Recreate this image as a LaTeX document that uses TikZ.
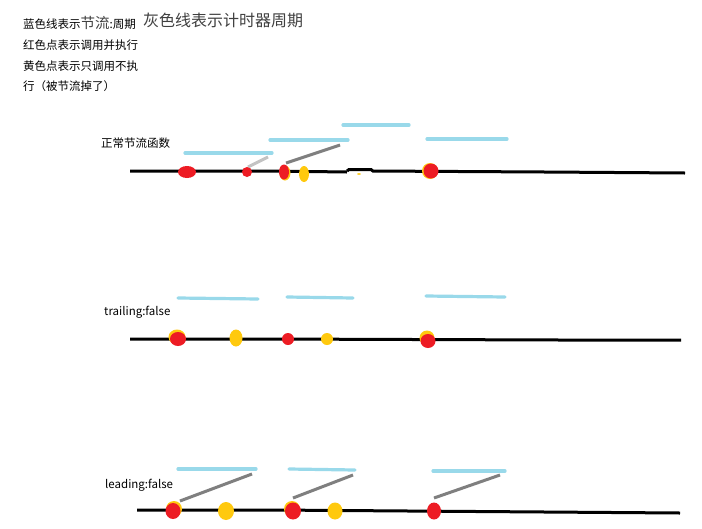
\documentclass[tikz,border=0pt]{standalone}
\usepackage{fontspec}
\setmainfont{Noto Sans CJK SC}
\definecolor{skyb}{RGB}{153,217,234}
\definecolor{penred}{RGB}{237,28,36}
\definecolor{penyel}{RGB}{255,201,14}
\definecolor{pengray}{RGB}{127,127,127}
\definecolor{lgray}{RGB}{195,195,195}
\tikzset{
  axis/.style={line width=3pt, black},
  period/.style={line width=3.2pt, skyb, line cap=round},
  timer/.style={line width=3pt, pengray},
  timerlight/.style={line width=3pt, lgray},
  lbl/.style={anchor=west, inner sep=0pt, font=\fontsize{11.5}{13}\selectfont},
  rdot/.style={fill=penred},
  ydot/.style={fill=penyel}
}
\begin{document}
\begin{tikzpicture}[x=1pt,y=-1pt]
\useasboundingbox (0,0) rectangle (702,528);
\fill[white] (0,0) rectangle (702,528);
% legend
\node[lbl] (l1) at (23,23) {蓝色线表示{\fontsize{14.5}{16}\selectfont\color{black!75}节流}:周期};
\node[lbl, font=\fontsize{16}{18}\selectfont, text=black!75] (l1b) at (143,20) {灰色线表示计时器周期};
\node[lbl] (l2) at (23,45) {红色点表示调用并执行};
\node[lbl] (l3) at (23,66) {黄色点表示只调用不执};
\node[lbl] (l4) at (23,86) {行（被节流掉了）};
% ---------- row 1 ----------
\node[lbl] (r1) at (101,143) {正常节流函数};
\draw[axis] (130,171) -- (270,171) -- (347,172);
\draw[axis] (347,171) -- (349,169.5) -- (371,169.5) -- (373,171) -- (545,172) -- (685,173);
\draw[period] (185,153) -- (272,153);
\draw[period] (270,140) -- (348,140);
\draw[period] (343,125) -- (409,125);
\draw[period] (427,139) -- (507,139);
\draw[timerlight] (248,167) -- (268,157);
\draw[timer] (286,163) -- (340,145);
\fill[rdot] (187,172) ellipse (9 and 6);
\fill[rdot] (247,172) circle (5);
\fill[ydot] (285,173) ellipse (5.5 and 7.5);
\fill[rdot] (284,172) ellipse (5 and 7.5);
\fill[ydot] (304,174) ellipse (5 and 8);
\fill[ydot] (359,174) ellipse (2 and 0.8);
\fill[ydot] (430,171) circle (8);
\fill[rdot] (431,171) circle (7.5);
% ---------- row 2 ----------
\node[lbl] (r2) at (104,312) {trailing:false};
\draw[axis] (130,339) -- (268,339) -- (560,340) -- (681,340);
\draw[period] (178,298) -- (258,299);
\draw[period] (287,297) -- (353,298);
\draw[period] (426,296) -- (505,297);
\fill[ydot] (177,337) ellipse (8.5 and 7.5);
\fill[rdot] (178,339) ellipse (8 and 7);
\fill[ydot] (236,338) ellipse (6.5 and 8.5);
\fill[rdot] (288,339) circle (6);
\fill[ydot] (327,339) circle (6);
\fill[ydot] (427,338) circle (7.5);
\fill[rdot] (428,341) ellipse (7.5 and 7);
% ---------- row 3 ----------
\node[lbl] (r3) at (105,485) {leading:false};
\draw[axis] (137,510) -- (272,510) -- (545,512) -- (680,513);
\draw[period] (178,469) -- (256,469);
\draw[period] (289,469) -- (355,470);
\draw[period] (433,471) -- (505,471);
\draw[timer] (180,501) -- (252,474);
\draw[timer] (293,498) -- (353,475);
\draw[timer] (434,498) -- (500,475);
\fill[ydot] (174,509) circle (8);
\fill[rdot] (173,511) ellipse (7.5 and 8);
\fill[ydot] (226,511) ellipse (8 and 9);
\fill[ydot] (292,509) circle (8);
\fill[rdot] (293,511) ellipse (8 and 8.5);
\fill[ydot] (335,511) ellipse (7.5 and 8.5);
\fill[rdot] (434,511) ellipse (7 and 8.5);
\end{tikzpicture}
\end{document}
